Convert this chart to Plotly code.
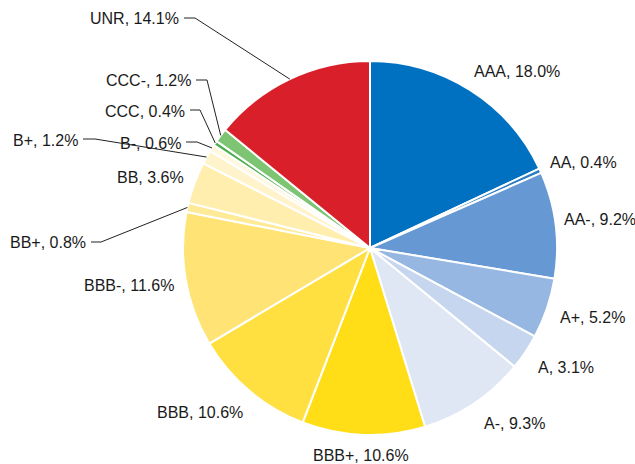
import math
import plotly.graph_objects as go

# ---- data ----
ratings = ["AAA", "AA", "AA-", "A+", "A", "A-", "BBB+", "BBB", "BBB-",
           "BB+", "BB", "B+", "B-", "CCC", "CCC-", "UNR"]
shares = [18.0, 0.4, 9.2, 5.2, 3.1, 9.3, 10.6, 10.6, 11.6,
          0.8, 3.6, 1.2, 0.6, 0.4, 1.2, 14.1]

# ---- style / layout ----
colors = ["#0070C0", "#2A7CC6", "#6699D3", "#95B7E1", "#C6D6EF", "#DFE6F4",
          "#FFDD17", "#FFE040", "#FFE374", "#FFEA98", "#FFEEAE", "#FFF3CC",
          "#FFF7DE", "#4CAF50", "#7DC573", "#D9202A"]
W, H = 635, 464
CX, CY, R = 370, 248, 187  # pie centre / radius in pixels

# label placement in pixels: (x, y, xanchor, leader knee x or None)
label_pos = [
    (517, 72, "center", None),
    (548, 163, "left", None),
    (562, 219, "left", None),
    (558, 317, "left", None),
    (536, 367, "left", None),
    (482, 423, "left", None),
    (361, 455, "center", None),
    (200, 412, "center", None),
    (129, 285, "center", None),
    (88, 243, "right", 101),
    (150, 178, "center", None),
    (80, 140, "right", 95),
    (183, 143, "right", 197),
    (187, 111, "right", 200),
    (193, 81, "right", 207),
    (181, 19, "right", 195),
]


def px(x):
    return x / W


def py(y):
    return 1 - y / H


fig = go.Figure(go.Pie(
    labels=ratings,
    values=shares,
    sort=False,
    direction="clockwise",
    rotation=0,
    marker=dict(colors=colors, line=dict(color="white", width=2)),
    textinfo="none",
    hoverinfo="label+percent",
    showlegend=False,
    domain=dict(x=[px(CX - R), px(CX + R)], y=[py(CY + R), py(CY - R)]),
))

total = sum(shares)
cum = 0.0
annotations = []
shapes = []
for lab, val, (lx, ly, anchor, knee) in zip(ratings, shares, label_pos):
    mid = (cum + val / 2) / total * 2 * math.pi
    cum += val
    annotations.append(dict(
        x=px(lx), y=py(ly), xref="paper", yref="paper",
        text=f"{lab}, {val:.1f}%", showarrow=False,
        xanchor=anchor, yanchor="middle",
        font=dict(family="Liberation Sans, Arial, sans-serif", size=16, color="#1a1a1a"),
    ))
    if knee is not None:
        ex = CX + R * math.sin(mid)
        ey = CY - R * math.cos(mid)
        sx = lx + 3
        yline = ly - 1
        path = (f"M {px(sx)},{py(yline)} L {px(knee)},{py(yline)} "
                f"L {px(ex)},{py(ey)}")
        shapes.append(dict(type="path", xref="paper", yref="paper", path=path,
                           line=dict(color="#222", width=1)))

fig.update_layout(
    width=W, height=H,
    margin=dict(l=0, r=0, t=0, b=0),
    paper_bgcolor="white",
    plot_bgcolor="white",
    annotations=annotations,
    shapes=shapes,
)

fig.write_html("out.html",
               config={"displayModeBar": False},
               post_script="document.body.style.margin='0px';"
                           "document.body.style.overflow='hidden';")
